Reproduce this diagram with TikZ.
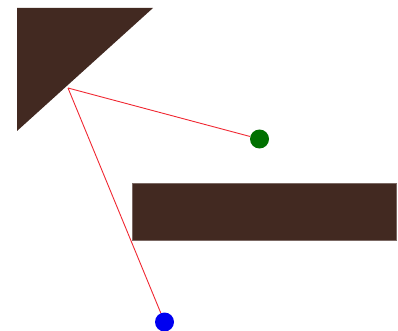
\documentclass[tikz,border=0pt]{standalone}
\usepackage{tikz}
\usetikzlibrary{positioning,calc}

\definecolor{wallbrown}{RGB}{66,41,33}
\definecolor{dotgreen}{RGB}{0,112,0}
\definecolor{dotblue}{RGB}{0,0,240}
\definecolor{rayred}{RGB}{240,40,50}

\begin{document}
\begin{tikzpicture}[
    x=1pt, y=-1pt,
    wall/.style={fill=wallbrown, draw=wallbrown!70!white, line width=0.5pt},
    target/.style={circle, inner sep=0pt, minimum size=19pt},
    ray/.style={draw=rayred, line width=0.9pt}
]
\useasboundingbox (0,0) rectangle (398,331);

% Obstacles
\fill[wallbrown] (17,8) -- (153,8) -- (17,131) -- cycle;
\node[wall, anchor=north west, minimum width=264pt, minimum height=57pt, inner sep=0pt] (block) at (132,183) {};

% Source and targets
\coordinate (src) at (68,88);
\node[target, fill=dotgreen] (green) at (259.5,139) {};
\node[target, fill=dotblue] (blue) at (164.5,322) {};

% Rays
\draw[ray] (src) -- (green);
\draw[ray] (src) -- (blue);

\end{tikzpicture}
\end{document}
